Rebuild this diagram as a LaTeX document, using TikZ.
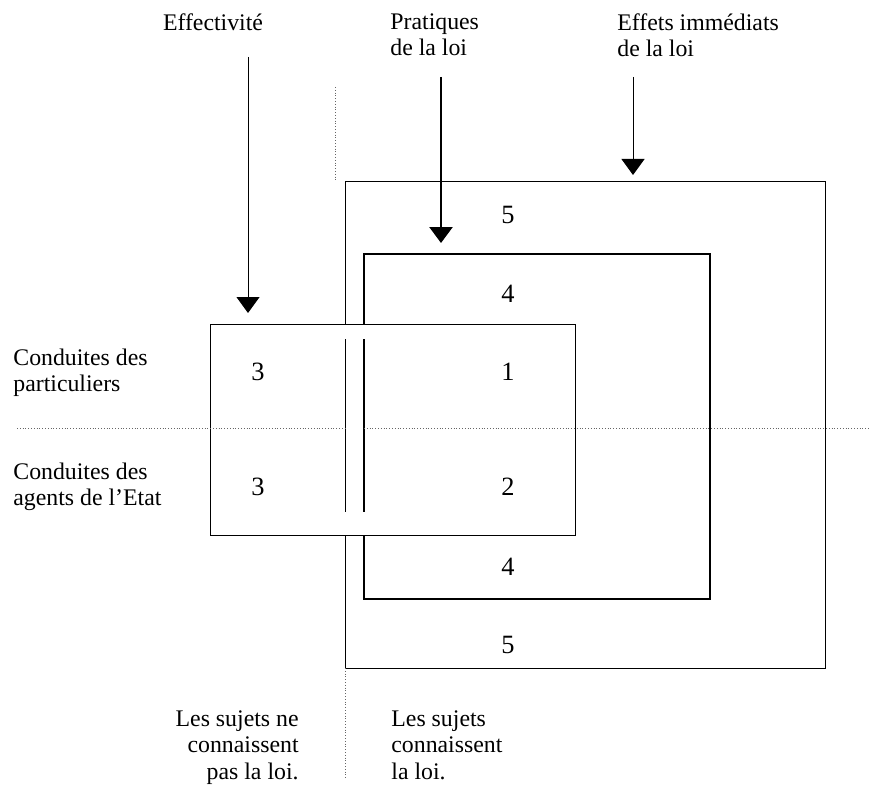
\documentclass[tikz,border=0pt]{standalone}
\usepackage{fontspec}
\setmainfont{Liberation Serif}
\usetikzlibrary{arrows.meta}

\begin{document}
\begin{tikzpicture}[x=0.5pt, y=-0.5pt,
		labeltext/.style={font=\fontsize{11.9}{13.25}\selectfont, inner sep=0pt},
		zonenum/.style={font=\fontsize{13.2}{14}\selectfont, inner sep=0pt},
		thinframe/.style={line width=0.5pt},
		thickframe/.style={line width=1.3pt},
		arrowtip/.style={-{Triangle[width=11.5pt, length=8pt]}},
		guide/.style={densely dotted, line width=0.4pt, color=black!60}]
	\useasboundingbox (0, 0) rectangle (870, 791);

	\coordinate (outerNW) at (345, 181);
	\coordinate (outerSE) at (825, 668);
	\coordinate (innerNW) at (364, 254);
	\coordinate (innerSE) at (710, 599);
	\coordinate (smallNW) at (210, 324);
	\coordinate (smallSE) at (575, 535);

	\coordinate (effStart) at (248, 57);
	\coordinate (effEnd) at (248, 313);
	\coordinate (praStart) at (441, 77);
	\coordinate (praEnd) at (441, 243);
	\coordinate (immStart) at (633, 77);
	\coordinate (immEnd) at (633, 175);

	\coordinate (outerCutTop) at (345, 339);
	\coordinate (outerCutBot) at (345, 512);
	\coordinate (innerCutTop) at (364, 339);
	\coordinate (innerCutBot) at (364, 512);

	\coordinate (hLeft) at (17, 428);
	\coordinate (hGapL) at (345, 428);
	\coordinate (hGapR) at (364, 428);
	\coordinate (hRight) at (870, 428);
	\coordinate (vTopA) at (335, 87);
	\coordinate (vTopB) at (335, 181);
	\coordinate (vBotA) at (345, 668);
	\coordinate (vBotB) at (345, 778);

	% the three zones
	\draw[thinframe] (outerNW) rectangle (outerSE);
	\draw[thickframe] (innerNW) rectangle (innerSE);
	\draw[thinframe, fill=white] (smallNW) rectangle (smallSE);
	\draw[thinframe] (outerCutTop) -- (outerCutBot);
	\draw[thickframe] (innerCutTop) -- (innerCutBot);

	% dividing lines
	\draw[guide] (hLeft) -- (hGapL);
	\draw[guide] (hGapR) -- (hRight);
	\draw[guide] (vTopA) -- (vTopB);
	\draw[guide] (vBotA) -- (vBotB);

	% arrows
	\draw[thinframe, arrowtip] (effStart) -- (effEnd);
	\draw[thickframe, arrowtip] (praStart) -- (praEnd);
	\draw[thinframe, arrowtip] (immStart) -- (immEnd);

	% labels
	\node[labeltext, anchor=north] (effectivite) at (213, 13) {Effectivité};
	\node[labeltext, anchor=north west, align=left] (pratiques) at (390, 13) {Pratiques\\de la loi};
	\node[labeltext, anchor=north west, align=left] (effets) at (617, 13) {Effets immédiats\\de la loi};
	\node[labeltext, anchor=west, align=left] (particuliers) at (13, 373) {Conduites des\\particuliers};
	\node[labeltext, anchor=west, align=left] (agents) at (13, 487) {Conduites des\\agents de l’Etat};
	\node[labeltext, anchor=north east, align=right] (ignorent) at (299, 710) {Les sujets ne\\connaissent\\pas la loi.};
	\node[labeltext, anchor=north west, align=left] (connaissent) at (391, 710) {Les sujets\\connaissent\\la loi.};

	\node[zonenum] (zoneFiveTop) at (508, 215) {5};
	\node[zonenum] (zoneFourTop) at (508, 294) {4};
	\node[zonenum] (zoneOne) at (508, 372) {1};
	\node[zonenum] (zoneTwo) at (508, 487) {2};
	\node[zonenum] (zoneFourBot) at (508, 567) {4};
	\node[zonenum] (zoneFiveBot) at (508, 645) {5};
	\node[zonenum] (zoneThreeTop) at (258, 372) {3};
	\node[zonenum] (zoneThreeBot) at (258, 487) {3};
\end{tikzpicture}
\end{document}
